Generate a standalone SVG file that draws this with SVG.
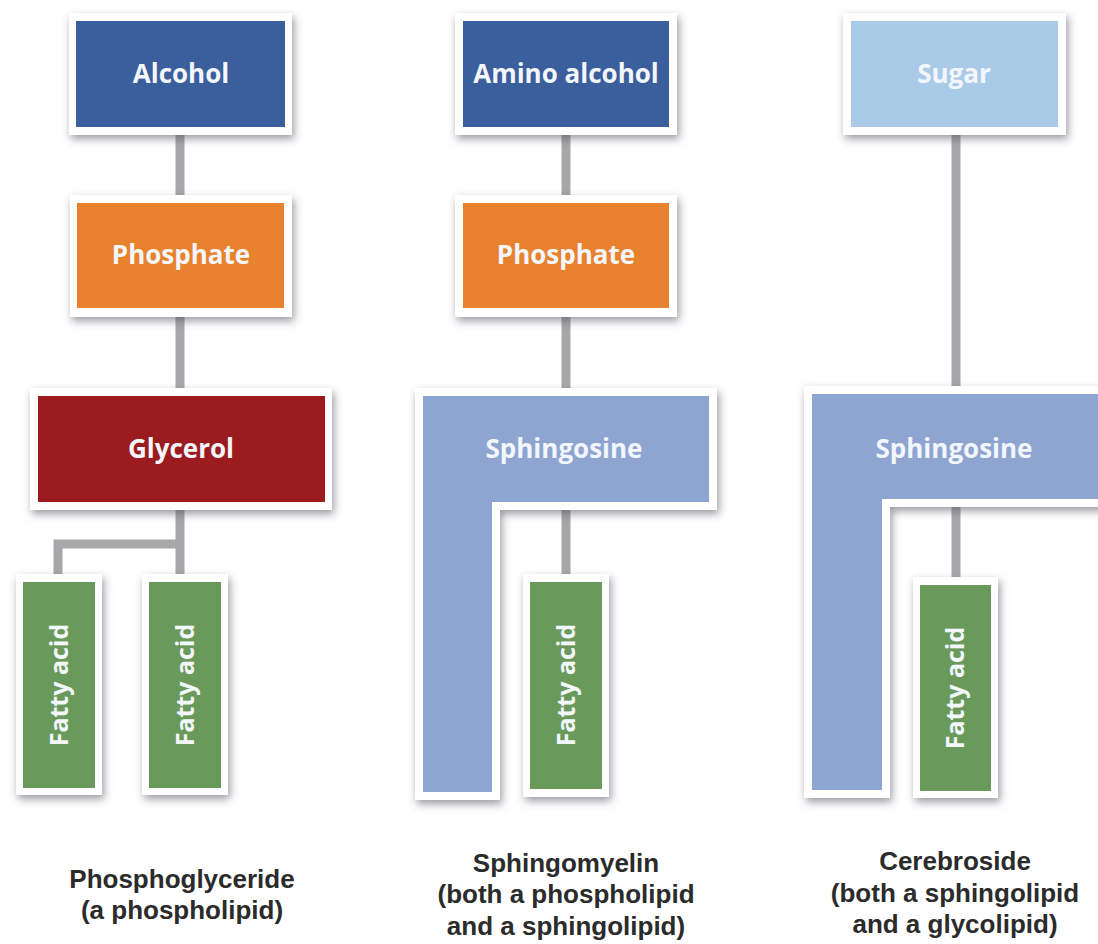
<svg xmlns="http://www.w3.org/2000/svg" width="1098" height="944" viewBox="0 0 1098 944">
<style>
.frame{fill:#ffffff;filter:url(#sh);}
.t{font-family:"Open Sans","Liberation Sans",sans-serif;font-weight:700;font-size:26px;fill:#f3f6fb;text-anchor:middle;}
.fa{font-size:25px;}
.lbl{font-family:"Liberation Sans","Open Sans",sans-serif;font-weight:700;font-size:26px;fill:#2b2b2b;text-anchor:middle;}
.con{fill:none;stroke:#a7a7a9;stroke-width:9;stroke-linejoin:miter;stroke-linecap:butt;}
.blue{fill:#3b5e9d;}
.orange{fill:#e8822f;}
.red{fill:#9b1b1f;}
.sph{fill:#8fa5d1;}
.sugar{fill:#a9cbe8;}
.green{fill:#699a5b;}
</style>
<defs>
<filter id="sh" x="-20%" y="-20%" width="140%" height="140%">
<feDropShadow dx="2" dy="4" stdDeviation="4" flood-color="#4a4a55" flood-opacity="0.55"/>
</filter>
</defs>
<rect x="0" y="0" width="1098" height="944" fill="#ffffff"/>
<g id="connectors">
<path class="con" d="M180,135 V196"/>
<path class="con" d="M180,317 V389"/>
<path class="con" d="M180,510 V575"/>
<path class="con" d="M180,544 H58 V575"/>
<path class="con" d="M566,135 V196"/>
<path class="con" d="M566,317 V389"/>
<path class="con" d="M566,510 V575"/>
<path class="con" d="M956,135 V387"/>
<path class="con" d="M956,507 V578"/>
</g>
<g id="alcohol">
<rect class="frame" x="69" y="13" width="223" height="122"/>
<rect class="blue" x="76" y="21" width="209" height="106"/>
<text class="t" x="181" y="83">Alcohol</text>
</g>
<g id="phosphate1">
<rect class="frame" x="70" y="195" width="222" height="122"/>
<rect class="orange" x="77" y="203" width="207" height="105"/>
<text class="t" x="181" y="264">Phosphate</text>
</g>
<g id="glycerol">
<rect class="frame" x="30" y="388" width="302" height="122"/>
<rect class="red" x="38" y="396" width="287" height="106"/>
<text class="t" x="181" y="458">Glycerol</text>
</g>
<g id="fattyacid1">
<rect class="frame" x="16" y="574" width="86" height="221"/>
<rect class="green" x="23" y="582" width="72" height="206"/>
<text class="t fa" transform="translate(68,685) rotate(-90)">Fatty acid</text>
</g>
<g id="fattyacid2">
<rect class="frame" x="142" y="574" width="86" height="221"/>
<rect class="green" x="149" y="582" width="72" height="206"/>
<text class="t fa" transform="translate(194,685) rotate(-90)">Fatty acid</text>
</g>
<g id="aminoalcohol">
<rect class="frame" x="455" y="13" width="222" height="122"/>
<rect class="blue" x="463" y="21" width="206" height="106"/>
<text class="t" x="566" y="83">Amino alcohol</text>
</g>
<g id="phosphate2">
<rect class="frame" x="455" y="195" width="222" height="122"/>
<rect class="orange" x="463" y="203" width="206" height="105"/>
<text class="t" x="566" y="264">Phosphate</text>
</g>
<g id="sphingosine1">
<polygon class="frame" points="415,388 717,388 717,510 500,510 500,800 415,800"/>
<polygon class="sph" points="423,396 709,396 709,502 492,502 492,792 423,792"/>
<text class="t" x="564" y="458">Sphingosine</text>
</g>
<g id="fattyacid3">
<rect class="frame" x="523" y="574" width="86" height="223"/>
<rect class="green" x="530" y="582" width="72" height="207"/>
<text class="t fa" transform="translate(575,685) rotate(-90)">Fatty acid</text>
</g>
<g id="sugar">
<rect class="frame" x="843" y="13" width="223" height="122"/>
<rect class="sugar" x="851" y="21" width="207" height="106"/>
<text class="t" x="954" y="83">Sugar</text>
</g>
<g id="sphingosine2">
<polygon class="frame" points="804,386 1110,386 1110,507 890,507 890,798 804,798"/>
<polygon class="sph" points="812,394 1110,394 1110,499 882,499 882,790 812,790"/>
<text class="t" x="954" y="458">Sphingosine</text>
</g>
<g id="fattyacid4">
<rect class="frame" x="913" y="577" width="85" height="221"/>
<rect class="green" x="920" y="585" width="71" height="206"/>
<text class="t fa" transform="translate(964,688) rotate(-90)">Fatty acid</text>
</g>
<g id="label1">
<text class="lbl" x="182" y="888">Phosphoglyceride</text>
<text class="lbl" x="182" y="919">(a phospholipid)</text>
</g>
<g id="label2">
<text class="lbl" x="566" y="872">Sphingomyelin</text>
<text class="lbl" x="566" y="903">(both a phospholipid</text>
<text class="lbl" x="566" y="935">and a sphingolipid)</text>
</g>
<g id="label3">
<text class="lbl" x="955" y="870">Cerebroside</text>
<text class="lbl" x="955" y="902">(both a sphingolipid</text>
<text class="lbl" x="955" y="933">and a glycolipid)</text>
</g>
</svg>
